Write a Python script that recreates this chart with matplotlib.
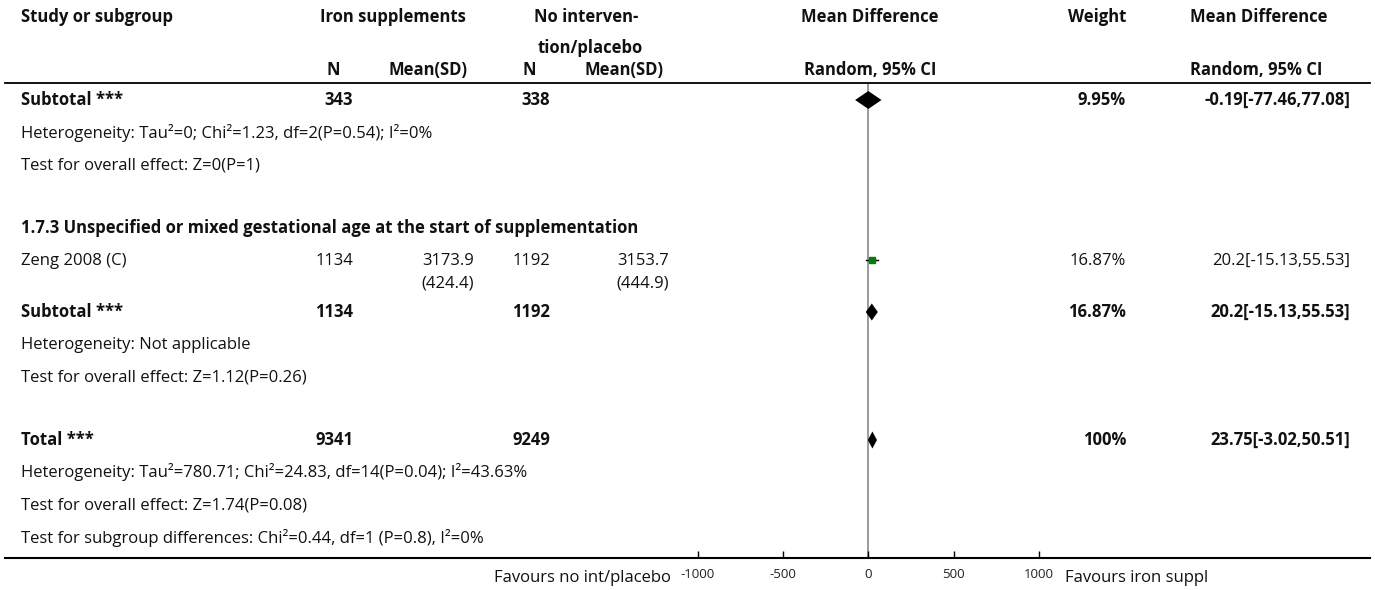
import matplotlib
matplotlib.use("Agg")
import matplotlib.pyplot as plt

plt.rcParams['font.family'] = ['Open Sans', 'DejaVu Sans']

W, H = 1375, 590
FS = 12
LX = 21

# data
sub1_n = [343, 338]
sub1_md = [-0.19, -77.46, 77.08]
sub1_weight = "9.95%"
sub1_het = "Heterogeneity: Tau\u00b2=0; Chi\u00b2=1.23, df=2(P=0.54); I\u00b2=0%"
sub1_test = "Test for overall effect: Z=0(P=1)"

group_title = "1.7.3 Unspecified or mixed gestational age at the start of supplementation"
study_name = "Zeng 2008 (C)"
study_n = [1134, 1192]
study_mean = ["3173.9", "3153.7"]
study_sd = ["(424.4)", "(444.9)"]
study_md = [20.2, -15.13, 55.53]
study_weight = "16.87%"

sub2_n = [1134, 1192]
sub2_md = [20.2, -15.13, 55.53]
sub2_weight = "16.87%"
sub2_het = "Heterogeneity: Not applicable"
sub2_test = "Test for overall effect: Z=1.12(P=0.26)"

total_n = [9341, 9249]
total_md = [23.75, -3.02, 50.51]
total_weight = "100%"
total_het = "Heterogeneity: Tau\u00b2=780.71; Chi\u00b2=24.83, df=14(P=0.04); I\u00b2=43.63%"
total_test = "Test for overall effect: Z=1.74(P=0.08)"
subgroup_test = "Test for subgroup differences: Chi\u00b2=0.44, df=1 (P=0.8), I\u00b2=0%"

xticks = [-1000, -500, 0, 500, 1000]
fav_left = "Favours no int/placebo"
fav_right = "Favours iron suppl"

fig = plt.figure(figsize=(W / 100, H / 100), dpi=100)


def txt(x, y, s, ha="left", bold=False, size=FS, color="#111111"):
    fig.text(x / W, 1 - y / H, s, ha=ha, va="center", fontsize=size,
             fontweight="bold" if bold else "normal", color=color)


def fmt_ci(v):
    return "%g[%g,%g]" % (v[0], v[1], v[2])


# header
txt(LX, 17, "Study or subgroup", bold=True)
txt(393, 17, "Iron supplements", ha="center", bold=True)
txt(586, 17, "No interven-", ha="center", bold=True)
txt(590, 48, "tion/placebo", ha="center", bold=True)
txt(870, 17, "Mean Difference", ha="center", bold=True)
txt(1126, 17, "Weight", ha="right", bold=True)
txt(1190, 17, "Mean Difference", bold=True)
txt(326, 70, "N", bold=True)
txt(467, 70, "Mean(SD)", ha="right", bold=True)
txt(523, 70, "N", bold=True)
txt(663, 70, "Mean(SD)", ha="right", bold=True)
txt(870, 70, "Random, 95% CI", ha="center", bold=True)
txt(1190, 70, "Random, 95% CI", bold=True)

fig.add_artist(plt.Line2D([5 / W, 1370 / W], [1 - 83 / H] * 2, color="black", lw=1.3))
fig.add_artist(plt.Line2D([5 / W, 1370 / W], [1 - 558 / H] * 2, color="black", lw=1.5))

# subtotal 1
txt(LX, 100, "Subtotal ***", bold=True)
txt(353, 100, str(sub1_n[0]), ha="right", bold=True)
txt(550, 100, str(sub1_n[1]), ha="right", bold=True)
txt(1126, 100, sub1_weight, ha="right", bold=True)
txt(1350, 100, fmt_ci(sub1_md), ha="right", bold=True)
txt(LX, 133, sub1_het)
txt(LX, 166, sub1_test)

# group 1.7.3
txt(LX, 228, group_title, bold=True)
txt(LX, 261, study_name)
txt(353, 261, str(study_n[0]), ha="right")
txt(474, 261, study_mean[0], ha="right")
txt(474, 283, study_sd[0], ha="right")
txt(550, 261, str(study_n[1]), ha="right")
txt(669, 261, study_mean[1], ha="right")
txt(669, 283, study_sd[1], ha="right")
txt(1126, 261, study_weight, ha="right")
txt(1350, 261, fmt_ci(study_md), ha="right")

txt(LX, 312, "Subtotal ***", bold=True)
txt(353, 312, str(sub2_n[0]), ha="right", bold=True)
txt(550, 312, str(sub2_n[1]), ha="right", bold=True)
txt(1126, 312, sub2_weight, ha="right", bold=True)
txt(1350, 312, fmt_ci(sub2_md), ha="right", bold=True)
txt(LX, 345, sub2_het)
txt(LX, 378, sub2_test)

# total
txt(LX, 440, "Total ***", bold=True)
txt(353, 440, str(total_n[0]), ha="right", bold=True)
txt(550, 440, str(total_n[1]), ha="right", bold=True)
txt(1126, 440, total_weight, ha="right", bold=True)
txt(1350, 440, fmt_ci(total_md), ha="right", bold=True)
txt(LX, 472, total_het)
txt(LX, 505, total_test)
txt(LX, 538, subgroup_test)

# forest panel: x in mean difference units, y in pixel rows
ax = fig.add_axes([697.7 / W, 1 - 558 / H, (1039 - 697.7) / W, (558 - 83) / H])
ax.set_xlim(-1000, 1000)
ax.set_ylim(558, 83)
for s in ["top", "left", "right", "bottom"]:
    ax.spines[s].set_visible(False)
ax.set_facecolor("none")
ax.set_yticks([])
ax.set_xticks(xticks)
ax.set_xticklabels([str(t) for t in xticks])
ax.tick_params(axis="x", direction="in", length=5, width=1, pad=7,
               labelsize=9.5, labelcolor="#222222")
ax.axvline(0, color="#8a8a8a", lw=1.2, zorder=1)


def diamond(v, y, h=18):
    ax.fill([v[1], v[0], v[2], v[0]], [y, y - h / 2, y, y + h / 2],
            color="black", zorder=3, lw=0)


diamond(sub1_md, 100)
diamond(sub2_md, 312, 17)
diamond(total_md, 440, 17)

ax.plot([study_md[1], study_md[2]], [260, 260], color="black", lw=1, zorder=3)
ax.plot([study_md[0]], [260], marker="s", ms=5, color="#0a7a0a",
        mec="#0a7a0a", zorder=4)

txt(671, 578, fav_left, ha="right")
txt(1065, 578, fav_right)

fig.savefig("out.png", dpi=100)
